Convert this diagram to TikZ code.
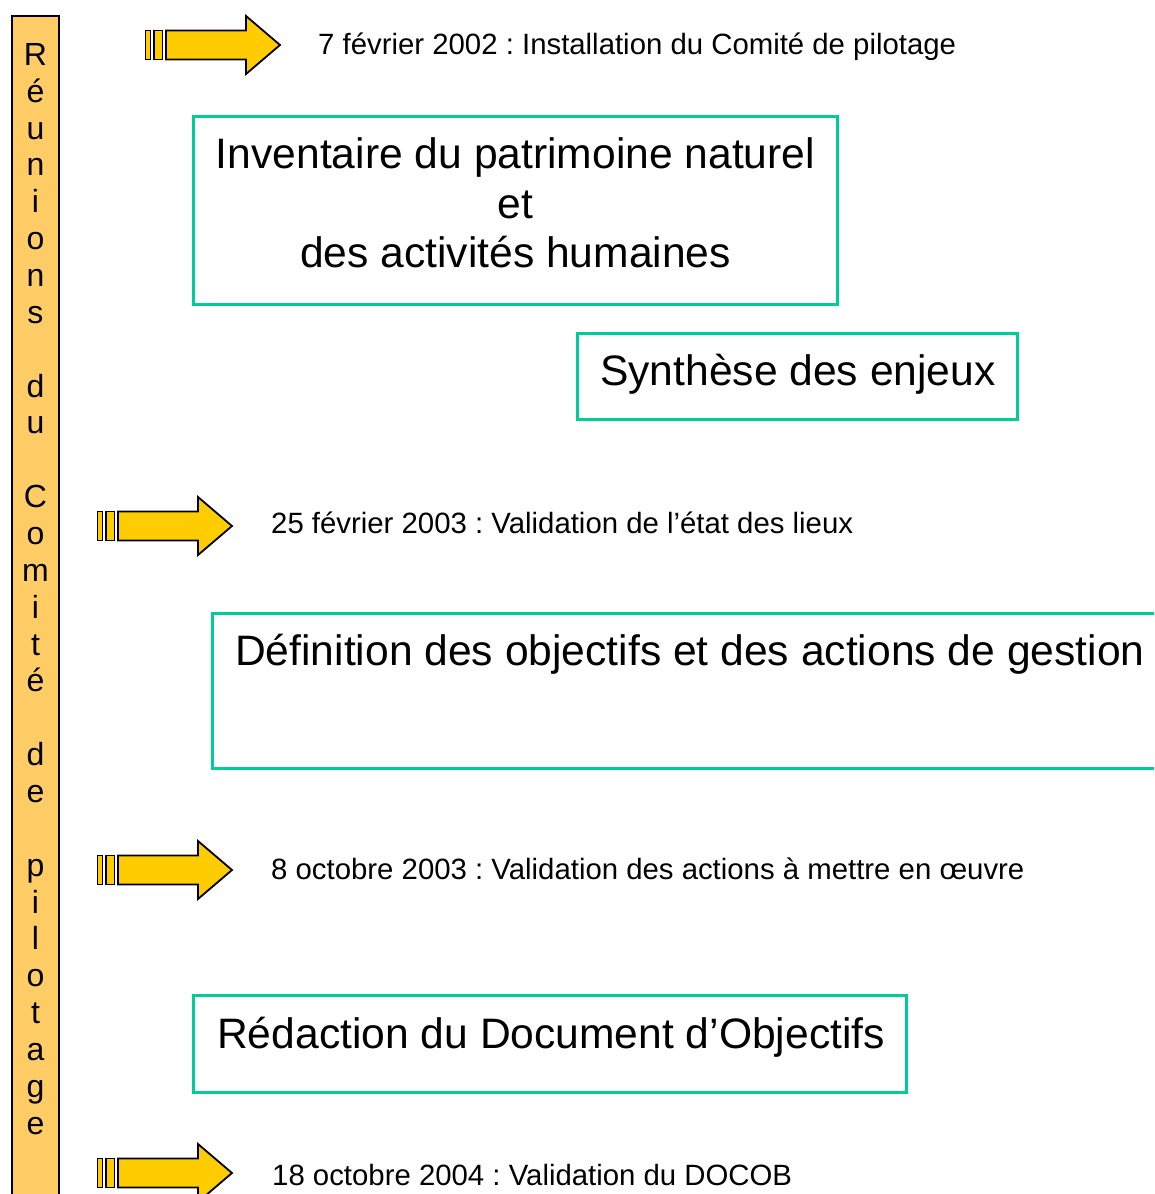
\documentclass[tikz,border=0pt]{standalone}
\usepackage{fontspec}
\setmainfont{Liberation Sans}
\usepackage{tikz}
\usetikzlibrary{positioning}
\definecolor{stageline}{HTML}{00CC99}
\definecolor{barfill}{HTML}{FFCC66}
\definecolor{arrowyellow}{HTML}{FFCC00}
\frenchspacing

\begin{document}
\begin{tikzpicture}[
  x=1pt,
  y=-1pt,
  stagebox/.style={draw=stageline,line width=3pt,inner sep=0pt},
  bigtext/.style={font=\fontsize{42.6}{49.5}\selectfont,inner sep=0pt},
  datetext/.style={font=\fontsize{29.35}{34}\selectfont,inner sep=0pt,
    anchor=base west},
  bartext/.style={font=\fontsize{32}{36.86}\selectfont,inner sep=0pt,
    align=center},
  arrowpart/.style={draw=black,line width=1.8pt,fill=arrowyellow},
  datearrow/.pic={
    \draw[arrowpart] (-20.5,-14.5) rectangle (-15.5,14.5);
    \draw[arrowpart] (-12,-14.5) rectangle (-3.5,14.5);
    \draw[arrowpart] (0,-14.5) -- (80,-14.5) -- (80,-29) -- (114,0)
      -- (80,29) -- (80,14.5) -- (0,14.5) -- cycle;
  }
]
\useasboundingbox (0,0) rectangle (1154,1194);
\clip (0,0) rectangle (1154,1194);

% left bar: meetings of the steering committee
\draw[fill=barfill,draw=black,line width=1.5pt] (12,16) rectangle (59,1210);
\node[bartext,anchor=north] (comite) at (35.5,43.1)
  {R\\é\\u\\n\\i\\o\\n\\s\\~\\d\\u\\~\\C\\o\\m\\i\\t\\é\\~\\d\\e\\~%
   \\p\\i\\l\\o\\t\\a\\g\\e};

% milestones
\pic (arrowA) at (166,45) {datearrow};
\node[datetext] (dateA) at (318,54.3)
  {7 février 2002 : Installation du Comité de pilotage};

\pic (arrowB) at (118,526) {datearrow};
\node[datetext] (dateB) at (271,533.3)
  {25 février 2003 : Validation de l’état des lieux};

\pic (arrowC) at (118,870) {datearrow};
\node[datetext] (dateC) at (271,879.3)
  {8 octobre 2003 : Validation des actions à mettre en œuvre};

\pic (arrowD) at (118,1173) {datearrow};
\node[datetext] (dateD) at (272,1185.3)
  {18 octobre 2004 : Validation du DOCOB};

% stages
\node[stagebox,minimum width=644pt,minimum height=188pt]
  (inventairebox) at (515,210) {};
\node[bigtext,align=center,anchor=north] (inventaire) at (515.5,137.8)
  {Inventaire du patrimoine naturel\\et\\des activités humaines};

\node[stagebox,minimum width=440pt,minimum height=86pt]
  (synthesebox) at (797.5,376.5) {};
\node[bigtext,anchor=base west] (synthese) at (600,385.5)
  {Synthèse des enjeux};

\node[stagebox,minimum width=990pt,minimum height=155pt]
  (definitionbox) at (707,690.5) {};
\node[bigtext,anchor=base west] (definition) at (235,665.5)
  {Définition des objectifs et des actions de gestion};

\node[stagebox,minimum width=713pt,minimum height=97pt]
  (redactionbox) at (549.5,1043.5) {};
\node[bigtext,anchor=base west] (redaction) at (217,1048)
  {Rédaction du Document d’Objectifs};
\end{tikzpicture}
\end{document}
